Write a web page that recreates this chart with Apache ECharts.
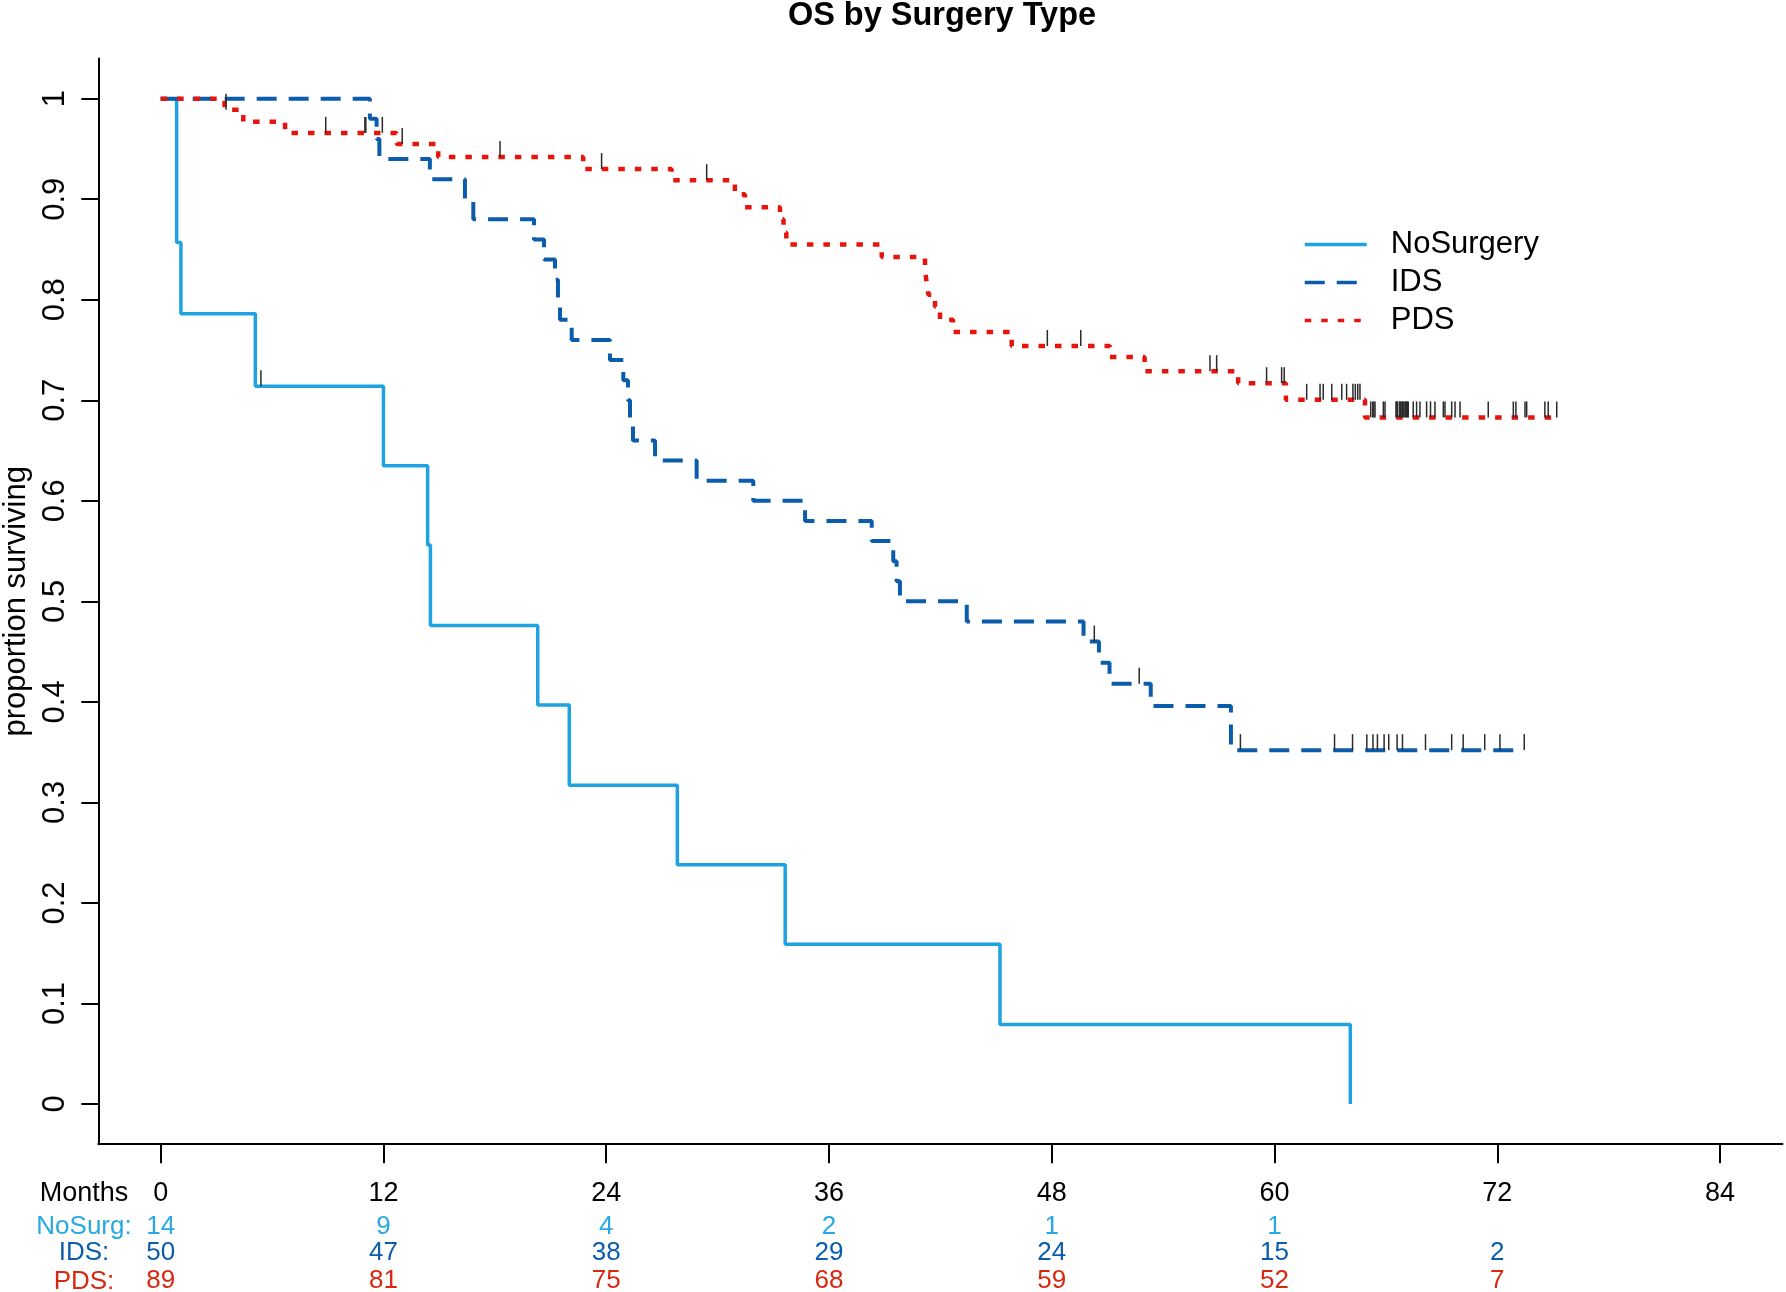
<!DOCTYPE html>
<html><head><meta charset="utf-8">
<script src="https://cdn.jsdelivr.net/npm/echarts@6/dist/echarts.min.js"></script>
<style>html,body{margin:0;padding:0;background:#fff}#c{width:1786px;height:1292px}</style>
</head><body><div id="c"></div>
<script>
const FONT = '"Liberation Sans", Arial, Helvetica, sans-serif';

// axis ticks
const monthTicks = [0, 12, 24, 36, 48, 60, 72, 84];
const yTickValues = [0, 0.1, 0.2, 0.3, 0.4, 0.5, 0.6, 0.7, 0.8, 0.9, 1];
const yTickLabels = ['0', '0.1', '0.2', '0.3', '0.4', '0.5', '0.6', '0.7', '0.8', '0.9', '1'];

// Kaplan-Meier steps (time in months, survival after the step)
const noSurgTimes = [0, 0.86, 1.09, 5.10, 12.0, 14.38, 14.53, 20.31, 22.01, 27.83, 33.64, 45.21, 64.08];
const noSurgSurv  = [1, 0.857, 0.786, 0.714, 0.635, 0.556, 0.476, 0.397, 0.317, 0.238, 0.159, 0.079, 0];
const noSurgCensor = [5.40];

const idsTimes = [0, 11.27, 11.63, 11.78, 14.5, 16.39, 16.84, 20.11, 20.65, 21.24, 21.4, 21.51, 22.14,
  24.2, 24.92, 25.17, 25.28, 25.44, 26.63, 28.87, 31.92, 34.71, 38.3, 39.46, 39.64, 39.82, 43.42,
  49.71, 50.54, 51.11, 53.33, 57.65, 73.5];
const idsSurv = [1, 0.98, 0.96, 0.94, 0.92, 0.90, 0.88, 0.86, 0.84, 0.82, 0.80, 0.78, 0.76,
  0.74, 0.72, 0.70, 0.68, 0.66, 0.64, 0.62, 0.60, 0.58, 0.56, 0.54, 0.52, 0.50, 0.48,
  0.46, 0.439, 0.418, 0.396, 0.352, 0.352];
const idsCensor = [50.29, 52.71, 58.16, 63.23, 64.2, 64.97, 65.3, 65.54, 65.9, 66.15, 66.6, 66.89,
  68.13, 69.54, 70.16, 71.32, 72.14, 73.45];

const pdsTimes = [0, 3.44, 4.45, 6.7, 12.71, 14.95, 22.76, 27.52, 30.93, 31.47, 33.36, 33.55, 33.7,
  38.84, 41.17, 41.25, 41.35, 41.71, 41.98, 42.68, 45.84, 51.13, 53.0, 58.04, 60.61, 64.87, 75.2];
const pdsSurv = [1, 0.989, 0.977, 0.966, 0.955, 0.942, 0.930, 0.919, 0.905, 0.892, 0.880, 0.867, 0.855,
  0.8425, 0.830, 0.818, 0.805, 0.793, 0.780, 0.768, 0.754, 0.743, 0.729, 0.717, 0.7005, 0.683, 0.683];
const pdsCensor = [3.52, 8.89, 11.0, 11.05, 11.94, 13.01, 18.28, 23.75, 29.41, 47.76, 49.56, 56.52, 56.88,
  59.57, 60.38, 60.52, 61.73, 62.45, 62.62, 63.08, 63.62, 63.88, 64.22, 64.35, 64.48, 64.6,
  65.18, 65.29, 65.35, 65.41, 65.86, 65.95, 66.54, 66.58, 66.61, 66.72, 66.79, 66.86, 66.9, 66.93,
  67.02, 67.06, 67.12, 67.16, 67.2, 67.47, 67.65, 67.83, 68.19, 68.4, 68.64, 69.09, 69.18, 69.54,
  69.72, 69.99, 71.51, 72.86, 73.0, 73.49, 73.58, 74.56, 74.74, 75.2];

// numbers at risk
const noSurgRisk = [14, 9, 4, 2, 1, 1, null, null];
const idsRisk = [50, 47, 38, 29, 24, 15, 2, null];
const pdsRisk = [89, 81, 75, 68, 59, 52, 7, null];

const C_NOSURG = '#1ea2e0', C_IDS = '#0b5dab', C_PDS = '#e5150e';
const T_NOSURG = '#27a9e1', T_IDS = '#0b5dab', T_PDS = '#d8280f';

function pairs(times, surv) { return times.map((t, i) => [t, surv[i]]); }
function levelAt(times, surv, t) {
  let s = surv[0];
  for (let i = 0; i < times.length; i++) { if (times[i] <= t) s = surv[i]; }
  return s;
}
function censorData(c, times, surv) { return c.map(t => [t, levelAt(times, surv, t)]); }
function riskFmt(arr) {
  return function (v) {
    const i = monthTicks.indexOf(Math.round(v));
    return (i >= 0 && arr[i] != null) ? String(arr[i]) : '';
  };
}
function censorSeries(name, data) {
  return {
    type: 'custom', name: name, data: data, z: 10, silent: true,
    encode: { x: 0, y: 1 },
    renderItem: function (params, api) {
      const p = api.coord([api.value(0), api.value(1)]);
      return { type: 'line', shape: { x1: p[0], y1: p[1], x2: p[0], y2: p[1] - 16 },
        style: { stroke: '#2b2b2b', lineWidth: 1.5 } };
    }
  };
}

const XMIN = -3.36, XMAX = 87.36;
function riskAxis(arr, color, margin) {
  return {
    type: 'value', min: XMIN, max: XMAX, position: 'bottom', gridIndex: 0,
    axisLine: { show: false, onZero: false }, axisTick: { show: false }, splitLine: { show: false },
    axisLabel: { customValues: monthTicks, margin: margin, color: color, fontSize: 26,
      fontFamily: FONT, formatter: riskFmt(arr) }
  };
}

const chart = echarts.init(document.getElementById('c'), null, { renderer: 'canvas' });
chart.setOption({
  animation: false,
  backgroundColor: '#ffffff',
  grid: { left: 98.3, right: 3.5, top: 58.5, bottom: 147.8, containLabel: false, outerBoundsMode: 'none' },
  xAxis: [
    {
      type: 'value', min: XMIN, max: XMAX, position: 'bottom',
      axisLine: { show: true, onZero: false, lineStyle: { color: '#000', width: 2 } },
      axisTick: { show: true, customValues: monthTicks, length: 19, lineStyle: { color: '#000', width: 2 } },
      axisLabel: { customValues: monthTicks, margin: 36, color: '#000', fontSize: 27, fontFamily: FONT },
      splitLine: { show: false }
    },
    riskAxis(noSurgRisk, T_NOSURG, 70),
    riskAxis(idsRisk, T_IDS, 96),
    riskAxis(pdsRisk, T_PDS, 124)
  ],
  yAxis: {
    type: 'value', min: -0.04, max: 1.04,
    axisLine: { show: true, onZero: false, lineStyle: { color: '#000', width: 2 } },
    axisTick: { show: true, customValues: yTickValues, length: 17, lineStyle: { color: '#000', width: 2 } },
    axisLabel: {
      customValues: yTickValues, rotate: 90, margin: 27, color: '#000', fontSize: 31, fontFamily: FONT,
      formatter: function (v) {
        for (let i = 0; i < yTickValues.length; i++) if (Math.abs(yTickValues[i] - v) < 1e-6) return yTickLabels[i];
        return '';
      }
    },
    splitLine: { show: false },
    name: 'proportion surviving', nameLocation: 'middle', nameGap: 58, nameRotate: 90,
    nameTextStyle: { color: '#000', fontSize: 31, fontFamily: FONT }
  },
  legend: {
    orient: 'vertical', left: 1298, top: 224, itemWidth: 62, itemHeight: 14, itemGap: 7,
    selectedMode: false, data: ['NoSurgery', 'IDS', 'PDS'],
    itemStyle: { opacity: 0 },
    lineStyle: { width: 3.5 },
    textStyle: { color: '#000', fontSize: 31, fontFamily: FONT, padding: [0, 0, 0, 19] }
  },
  graphic: [
    { type: 'text', x: 942, y: 16, style: { text: 'OS by Surgery Type', fill: '#000',
      font: 'bold 32.5px ' + FONT, textAlign: 'center', textVerticalAlign: 'middle' } },
    { type: 'text', x: 84, y: 1194, style: { text: 'Months', fill: '#000', font: '27px ' + FONT, textAlign: 'center', textVerticalAlign: 'middle' } },
    { type: 'text', x: 84, y: 1227, style: { text: 'NoSurg:', fill: T_NOSURG, font: '26px ' + FONT, textAlign: 'center', textVerticalAlign: 'middle' } },
    { type: 'text', x: 84, y: 1253, style: { text: 'IDS:', fill: T_IDS, font: '26px ' + FONT, textAlign: 'center', textVerticalAlign: 'middle' } },
    { type: 'text', x: 84, y: 1282, style: { text: 'PDS:', fill: T_PDS, font: '26px ' + FONT, textAlign: 'center', textVerticalAlign: 'middle' } }
  ],
  series: [
    { type: 'line', name: 'NoSurgery', step: 'end', symbol: 'none', data: pairs(noSurgTimes, noSurgSurv),
      lineStyle: { color: C_NOSURG, width: 3.5, type: 'solid' }, itemStyle: { color: C_NOSURG }, z: 3 },
    { type: 'line', name: 'IDS', step: 'end', symbol: 'none', data: pairs(idsTimes, idsSurv),
      lineStyle: { color: C_IDS, width: 4, type: [20, 12] }, itemStyle: { color: C_IDS }, z: 4 },
    { type: 'line', name: 'PDS', step: 'end', symbol: 'none', data: pairs(pdsTimes, pdsSurv),
      lineStyle: { color: C_PDS, width: 4.5, type: [6.5, 10] }, itemStyle: { color: C_PDS }, z: 5 },
    censorSeries('censorNoSurg', censorData(noSurgCensor, noSurgTimes, noSurgSurv)),
    censorSeries('censorIDS', censorData(idsCensor, idsTimes, idsSurv)),
    censorSeries('censorPDS', censorData(pdsCensor, pdsTimes, pdsSurv))
  ]
});
</script>
</body></html>
